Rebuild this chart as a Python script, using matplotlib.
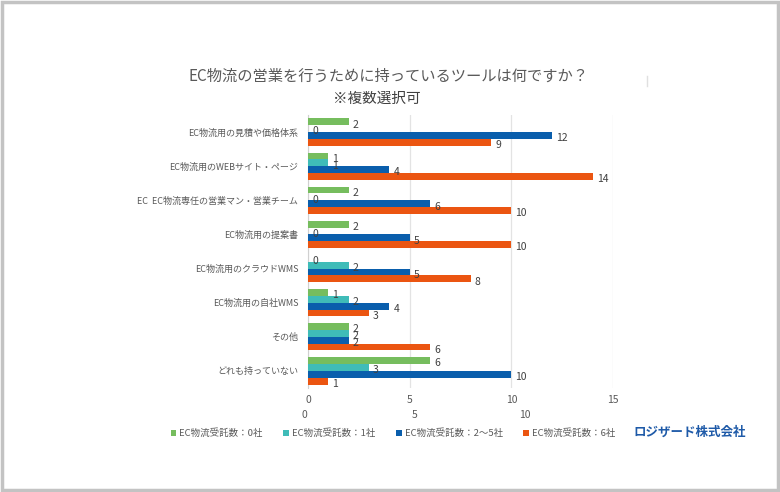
import numpy as np
import matplotlib
matplotlib.use('Agg')
import matplotlib.pyplot as plt
from matplotlib.patches import Rectangle
from matplotlib.lines import Line2D

plt.rcParams['font.family'] = ['Noto Sans CJK JP', 'DejaVu Sans']

# data (top to bottom as in the chart)
categories = ['EC物流用の見積や価格体系', 'EC物流用のWEBサイト・ページ',
              'EC  EC物流専任の営業マン・営業チーム', 'EC物流用の提案書',
              'EC物流用のクラウドWMS', 'EC物流用の自社WMS', 'その他', 'どれも持っていない']
series_names = ['EC物流受託数：0社', 'EC物流受託数：1社', 'EC物流受託数：2〜5社', 'EC物流受託数：6社']
vals_0 = [2, 1, 2, 2, 0, 1, 2, 6]
vals_1 = [0, 1, 0, 0, 2, 2, 2, 3]
vals_2_5 = [12, 4, 6, 5, 5, 4, 2, 10]
vals_6 = [9, 14, 10, 10, 8, 3, 6, 1]
colors = ['#76bd5e', '#3fbcb8', '#0a5eac', '#eb5511']

TEXT = '#595959'

fig = plt.figure(figsize=(7.8, 4.92), dpi=100)

# light grey frame around the whole picture
fig.patches.append(Rectangle((0.002, 0.004), 0.995, 0.992, transform=fig.transFigure,
                             fill=False, edgecolor='#c3c3c3', linewidth=2.5))

ax = fig.add_axes([308/780, 1-388/492, 305/780, 273/492])

n = len(categories)
y = np.arange(n)
bar_h = 0.2
all_vals = [vals_0, vals_1, vals_2_5, vals_6]
for i, (vals, col, name) in enumerate(zip(all_vals, colors, series_names)):
    pos = y - 0.3 + i * bar_h
    bars = ax.barh(pos, vals, height=bar_h, color=col, label=name, zorder=3)
    for b, v in zip(bars, vals):
        ax.annotate(str(v), (b.get_width(), b.get_y() + b.get_height() / 2),
                    xytext=(3, -2), textcoords='offset points', va='center', ha='left',
                    fontsize=7.5, color='#404040', zorder=4)

ax.set_ylim(n - 0.5, -0.5)
ax.set_xlim(0, 15)
ax.set_xticks([0, 5, 10, 15])
ax.set_yticks(y)
ax.set_yticklabels(categories, fontsize=6.5, color=TEXT)
ax.tick_params(axis='x', length=0, labelsize=7.5, labelcolor=TEXT, pad=5)
ax.tick_params(axis='y', length=0, pad=7)
ax.grid(axis='x', color='#e3e3e3', linewidth=0.9, zorder=0)
for s in ['top', 'right', 'bottom']:
    ax.spines[s].set_visible(False)
ax.spines['left'].set_color('#d0d0d0')

# stray second scale below the axis
ax2 = fig.add_axes([304/780, 1-406/492, 331.5/780, 0.001])
ax2.set_xlim(0, 15)
ax2.set_xticks([0, 5, 10])
ax2.set_yticks([])
ax2.tick_params(axis='x', length=0, labelsize=7.5, labelcolor=TEXT, pad=3)
for s in ax2.spines.values():
    s.set_visible(False)
ax2.patch.set_alpha(0)

fig.text(389/780, 1-76/492, 'EC物流の営業を行うために持っているツールは何ですか？',
         ha='center', va='center', fontsize=11, color=TEXT)
fig.text(377/780, 1-99/492, '※複数選択可', ha='center', va='center', fontsize=10.5,
         color='#404040')

# small stray mark near the title
fig.add_artist(Line2D([647/780, 647/780], [1-76/492, 1-86/492], transform=fig.transFigure,
                      color='#e0e0e0', linewidth=1))

handles, labels = ax.get_legend_handles_labels()
leg = fig.legend(handles, labels, loc='center', bbox_to_anchor=(393/780, 1-433/492), ncol=4,
                 frameon=False, fontsize=6.8, handlelength=0.6, handleheight=0.6,
                 handletextpad=0.3, columnspacing=2.2, labelcolor=TEXT)

fig.text(690/780, 1-432/492, 'ロジザード株式会社', ha='center', va='center', fontsize=9,
         fontweight='bold', color='#1e5aa8')

fig.savefig('out.png', dpi=100)
